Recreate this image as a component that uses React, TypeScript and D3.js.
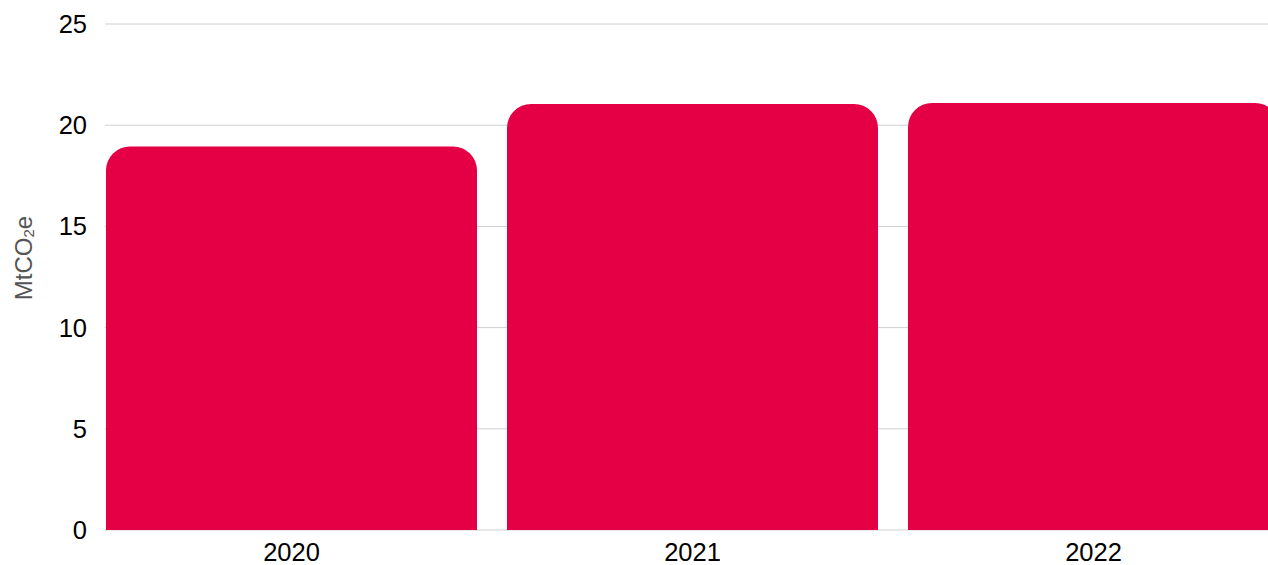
import React from "react";
import * as d3 from "d3";

const categories = ["2020", "2021", "2022"];
const values = [18.95, 21.05, 21.1];
const yTicks = [0, 5, 10, 15, 20, 25];

const W = 1268;
const H = 565;
const left = 105;
const top = 24;
const bottom = 530;
const barColor = "#E50046";
const font = "'Liberation Sans', Arial, Helvetica, sans-serif";

function barPath(x: number, y: number, w: number, h: number, r: number) {
  const rr = Math.min(r, w / 2, h);
  return `M${x},${y + h} L${x},${y + rr} A${rr},${rr} 0 0 1 ${x + rr},${y} L${x + w - rr},${y} A${rr},${rr} 0 0 1 ${x + w},${y + rr} L${x + w},${y + h} Z`;
}

export default function App() {
  const x = d3.scaleBand<string>().domain(categories).range([106, 1279]).paddingInner(0.0748).paddingOuter(0);
  const y = d3.scaleLinear().domain([0, 25]).range([bottom, top]);
  return (
    <svg width={W} height={H} style={{ position: "absolute", left: 0, top: 0 }} fontFamily={font}>
      {yTicks.map((t) => (
        <g key={t}>
          <line x1={left} x2={W} y1={y(t)} y2={y(t)} stroke="#d0d0d0" strokeWidth={1} />
          <text x={87} y={y(t)} dy="0.35em" textAnchor="end" fontSize={25.5} fill="#000">
            {t}
          </text>
        </g>
      ))}
      {categories.map((c, i) => {
        const bx = x(c)!;
        const by = y(values[i]);
        return (
          <path key={c} d={barPath(bx, by, x.bandwidth(), bottom - by, 24)} fill={barColor} />
        );
      })}
      {categories.map((c) => (
        <text key={c} x={x(c)! + x.bandwidth() / 2} y={561} textAnchor="middle" fontSize={25.5} fill="#000">
          {c}
        </text>
      ))}
      <text transform={`translate(32,258) rotate(-90)`} textAnchor="middle" fontSize={24} fill="#555">
        MtCO<tspan fontSize={15} dy={2}>2</tspan><tspan dy={-2}>e</tspan>
      </text>
    </svg>
  );
}
